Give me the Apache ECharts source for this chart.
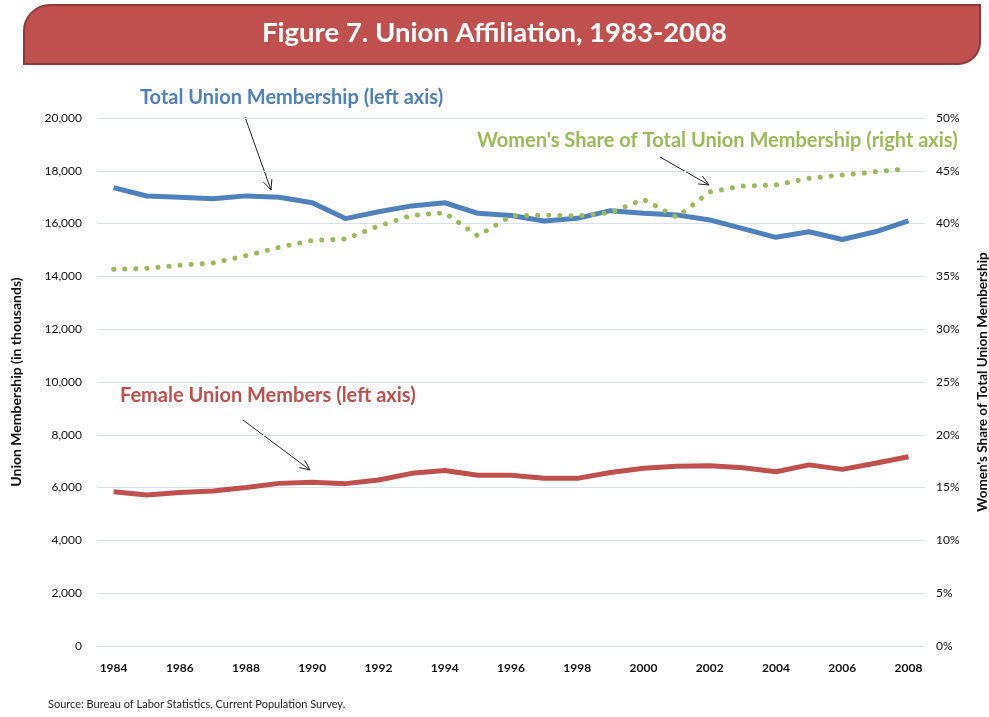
<!DOCTYPE html>
<html>
<head>
<meta charset="utf-8">
<script src="https://cdn.jsdelivr.net/npm/echarts@6/dist/echarts.min.js"></script>
<style>
  html, body { margin: 0; padding: 0; background: #fff; }
  #chart { width: 989px; height: 717px; }
</style>
</head>
<body>
<div id="chart"></div>
<script>
var years = ["1984", "1985", "1986", "1987", "1988", "1989", "1990", "1991", "1992",
  "1993", "1994", "1995", "1996", "1997", "1998", "1999", "2000", "2001", "2002",
  "2003", "2004", "2005", "2006", "2007", "2008"];

// thousands of members
var totalMembers = [17360, 17045, 17000, 16940, 17050, 17000, 16790, 16190, 16450,
  16670, 16790, 16390, 16310, 16100, 16200, 16490, 16390, 16330, 16140,
  15810, 15480, 15690, 15400, 15690, 16100];

var femaleMembers = [5840, 5720, 5810, 5870, 6000, 6160, 6200, 6150, 6290,
  6540, 6650, 6470, 6470, 6350, 6350, 6570, 6730, 6810, 6830,
  6750, 6600, 6860, 6690, 6920, 7170];

// percent
var womenShare = [35.67, 35.76, 36.05, 36.27, 36.96, 37.75, 38.41, 38.54, 39.77,
  40.78, 41.03, 38.83, 40.72, 40.81, 40.72, 41.03, 42.3, 40.6, 43.0,
  43.56, 43.66, 44.29, 44.6, 44.9, 45.2];

var font = "Lato, 'Open Sans', sans-serif";

function arrow(x1, y1, x2, y2) {
  var dx = x2 - x1, dy = y2 - y1;
  var len = Math.sqrt(dx * dx + dy * dy);
  var ux = dx / len, uy = dy / len;
  var h = 11, a = 0.42;
  var c = Math.cos(a), s = Math.sin(a);
  var lx = x2 - h * (ux * c - uy * s), ly = y2 - h * (uy * c + ux * s);
  var rx = x2 - h * (ux * c + uy * s), ry = y2 - h * (uy * c - ux * s);
  return [
    { type: "line", shape: { x1: x1, y1: y1, x2: x2, y2: y2 }, style: { stroke: "#222", lineWidth: 1 } },
    { type: "polyline", shape: { points: [[lx, ly], [x2, y2], [rx, ry]] }, style: { stroke: "#222", lineWidth: 1, fill: null } }
  ];
}

var chart = echarts.init(document.getElementById("chart"));

var graphics = [
  {
    type: "rect",
    shape: { x: 24, y: 5, width: 956, height: 59, r: [26, 0, 22, 0] },
    style: { fill: "#c0504d", stroke: "#8e3b39", lineWidth: 2 }
  },
  {
    type: "text", left: "center", top: 19,
    style: { text: "Figure 7. Union Affiliation, 1983-2008", fill: "#fff", font: "bold 27.5px " + font }
  },
  {
    type: "text", left: 140, top: 88,
    style: { text: "Total Union Membership (left axis)", fill: "#4f81bd", font: "bold 20px " + font }
  },
  {
    type: "text", left: 477, top: 131,
    style: { text: "Women's Share of Total Union Membership (right axis)", fill: "#9bbb59", font: "bold 20px " + font }
  },
  {
    type: "text", left: 120, top: 386,
    style: { text: "Female Union Members (left axis)", fill: "#c0504d", font: "bold 20px " + font }
  },
  {
    type: "text", left: 48, top: 699,
    style: { text: "Source: Bureau of Labor Statistics, Current Population Survey.", fill: "#222", font: "11px " + font }
  }
];
graphics = graphics.concat(arrow(245, 117, 271, 190), arrow(660, 157, 709, 185), arrow(243, 420, 310, 470));

var option = {
  animation: false,
  textStyle: { fontFamily: font },
  grid: { left: 97, right: 64, top: 118, bottom: 71, outerBoundsMode: "none" },
  xAxis: {
    type: "category",
    data: years,
    boundaryGap: true,
    axisTick: { show: false },
    axisLine: { lineStyle: { color: "#d9e2ef" } },
    axisLabel: { interval: 1, color: "#111", fontSize: 12, fontWeight: "bold", margin: 16 }
  },
  yAxis: [
    {
      type: "value", min: 0, max: 20000, interval: 2000,
      name: "Union Membership (in thousands)",
      nameLocation: "middle", nameGap: 74, nameRotate: 90,
      nameTextStyle: { fontSize: 14, fontWeight: "bold", color: "#111" },
      axisLabel: {
        color: "#111", fontSize: 12, margin: 15,
        formatter: function (v) { return v.toLocaleString("en-US"); }
      },
      splitLine: { lineStyle: { color: "#d9e2ef", width: 1 } }
    },
    {
      type: "value", min: 0, max: 50, interval: 5,
      name: "Women's Share of Total Union Membership",
      nameLocation: "middle", nameGap: 51, nameRotate: 90,
      nameTextStyle: { fontSize: 13.5, fontWeight: "bold", color: "#111" },
      axisLabel: { color: "#111", fontSize: 12, margin: 11, formatter: "{value}%" },
      splitLine: { show: false }
    }
  ],
  series: [
    {
      name: "Total Union Membership", type: "line", data: totalMembers,
      symbol: "none", lineStyle: { color: "#4f81bd", width: 5 }
    },
    {
      name: "Female Union Members", type: "line", data: femaleMembers,
      symbol: "none", lineStyle: { color: "#c0504d", width: 5 }
    },
    {
      name: "Women's Share", type: "line", yAxisIndex: 1, data: womenShare,
      symbol: "none", lineStyle: { color: "#9bbb59", width: 5, type: [0.1, 11], cap: "round" }
    }
  ],
  graphic: graphics
};

chart.setOption(option);
</script>
</body>
</html>
